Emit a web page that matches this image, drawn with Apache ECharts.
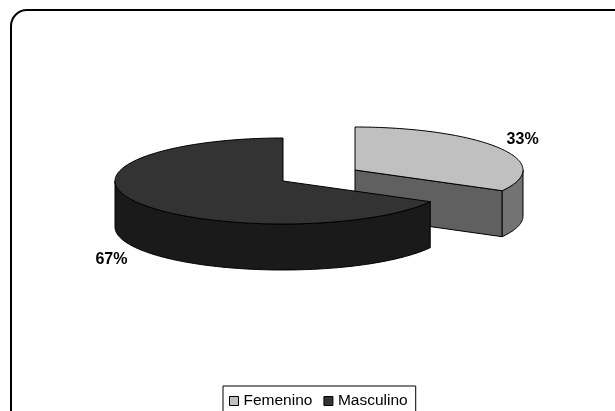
<!DOCTYPE html>
<html>
<head>
<meta charset="utf-8">
<style>html,body{margin:0;padding:0;background:#fff}#chart{width:615px;height:411px}</style>
<script src="https://cdn.jsdelivr.net/npm/echarts@6/dist/echarts.min.js"></script>
</head>
<body>
<div id="chart"></div>
<script>
// Sex distribution, shown as an exploded 3D pie
const categories = ['Femenino', 'Masculino'];
const values = [33, 67];
const topColors = ['#c0c0c0', '#333333'];
const outerWallColors = ['#737373', '#1a1a1a'];
const innerWallColors = ['#606060', '#1a1a1a'];
const sliceCenters = [[355, 170], [283, 181]];
const labelOffsets = [[23, -9], [-27, 11]];

const RX = 168, RY = 43, DEPTH = 46;
const total = values.reduce((a, b) => a + b, 0);
const startShares = values.map((_, i) => values.slice(0, i).reduce((a, b) => a + b, 0) / total);

// Point on the tilted rim; the angle runs clockwise from twelve o'clock
function rim(c, a, drop) {
  return [c[0] + RX * Math.sin(a), c[1] - RY * Math.cos(a) + (drop || 0)];
}
function arc(c, a0, a1, drop) {
  const n = Math.max(2, Math.ceil(Math.abs(a1 - a0) * 48));
  const pts = [];
  for (let k = 0; k <= n; k++) pts.push(rim(c, a0 + (a1 - a0) * k / n, drop));
  return pts;
}
function face(points, fill) {
  return {
    type: 'polygon',
    shape: { points },
    style: { fill, stroke: '#000', lineWidth: 1, lineJoin: 'round' }
  };
}

function renderSlice(i) {
  return function (params, api) {
    const value = api.value(0);
    const a0 = startShares[i] * 2 * Math.PI;
    const a1 = a0 + value / total * 2 * Math.PI;
    const c = sliceCenters[i];
    const children = [];

    // Cut wall running from the apex to the end of the slice
    const end = rim(c, a1);
    if (a1 < Math.PI) {
      children.push(face([c, end, [end[0], end[1] + DEPTH], [c[0], c[1] + DEPTH]], innerWallColors[i]));
    }
    // Outer wall: only the front half of the rim can be seen
    const s0 = Math.max(a0, Math.PI / 2);
    const s1 = Math.min(a1, 1.5 * Math.PI);
    if (s1 > s0) {
      children.push(face(arc(c, s0, s1, 0).concat(arc(c, s1, s0, DEPTH)), outerWallColors[i]));
    }
    // Top of the slice
    children.push(face([c].concat(arc(c, a0, a1, 0)), topColors[i]));

    // Percentage beside the slice
    const mid = (a0 + a1) / 2;
    const anchor = rim(c, mid, Math.cos(mid) < 0 ? DEPTH : 0);
    children.push({
      type: 'text',
      style: {
        text: Math.round(value / total * 100) + '%',
        x: anchor[0] + labelOffsets[i][0],
        y: anchor[1] + labelOffsets[i][1],
        align: 'center',
        verticalAlign: 'middle',
        font: 'bold 16px "Liberation Sans", Arial, sans-serif',
        fill: '#000'
      }
    });
    return { type: 'group', children };
  };
}

const chart = echarts.init(document.getElementById('chart'), null, { renderer: 'canvas' });
chart.setOption({
  animation: false,
  backgroundColor: '#fff',
  graphic: [{
    type: 'rect',
    z: -1,
    shape: { x: 11, y: 10, width: 800, height: 600, r: 16 },
    style: { fill: '#fff', stroke: '#000', lineWidth: 2 }
  }],
  legend: {
    data: categories,
    left: 223,
    top: 386,
    orient: 'horizontal',
    padding: [7, 8, 30, 6],
    itemGap: 11,
    itemWidth: 9,
    itemHeight: 9,
    icon: 'rect',
    selectedMode: false,
    backgroundColor: '#fff',
    borderColor: '#000',
    borderWidth: 1,
    borderRadius: 0,
    itemStyle: { borderColor: '#000', borderWidth: 1 },
    textStyle: { fontFamily: '"Liberation Sans", Arial, sans-serif', fontSize: 15.5, color: '#000', padding: [0, 0, 0, 0] }
  },
  series: categories.map((name, i) => ({
    type: 'custom',
    name,
    coordinateSystem: 'none',
    silent: true,
    itemStyle: { color: topColors[i] },
    data: [[values[i]]],
    renderItem: renderSlice(i)
  }))
});
</script>
</body>
</html>
